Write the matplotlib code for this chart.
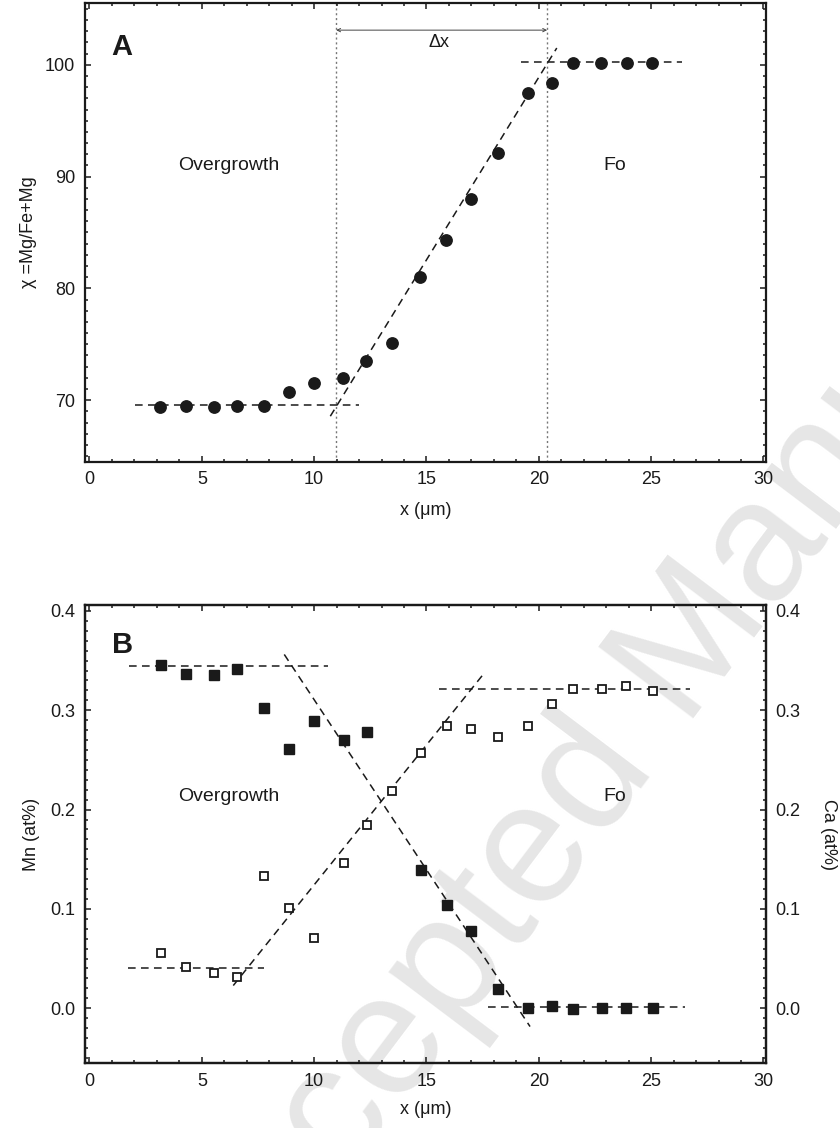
import numpy as np
import matplotlib
matplotlib.use("Agg")
import matplotlib.pyplot as plt
from matplotlib.ticker import MultipleLocator

plt.rcParams['font.family'] = ['Liberation Sans', 'DejaVu Sans']

# panel A: chi = Mg/(Fe+Mg) profile
x_a = [3.15, 4.3, 5.54, 6.58, 7.75, 8.87, 10.0, 11.27, 12.31, 13.48,
       14.7, 15.88, 17.0, 18.2, 19.54, 20.58, 21.52, 22.75, 23.93, 25.06]
chi = [69.35, 69.5, 69.35, 69.5, 69.5, 70.7, 71.55, 71.96, 73.54, 75.09,
       81.0, 84.29, 87.98, 92.14, 97.47, 98.33, 100.12, 100.18, 100.12, 100.18]

# fitted segments (x pairs, y pairs)
fit_a_low = ([2.03, 11.98], [69.55, 69.55])
fit_a_slope = ([10.72, 20.8], [68.57, 101.5])
fit_a_high = ([19.19, 26.36], [100.27, 100.27])
dx_bounds = [10.98, 20.37]

# panel B: Mn and Ca profiles
x_b = [3.18, 4.3, 5.54, 6.58, 7.75, 8.88, 10.0, 11.31, 12.36, 13.45,
       14.76, 15.91, 17.0, 18.18, 19.52, 20.57, 21.54, 22.8, 23.9, 25.09]
mn = [0.3458, 0.337, 0.3353, 0.342, 0.3027, 0.2607, 0.2893, 0.2705, 0.2779, None,
      0.1387, 0.1041, 0.0776, 0.0198, 0.0, 0.002, -0.0007, 0.0, 0.0, 0.0]
ca = [0.056, 0.041, 0.0353, 0.0316, 0.1327, 0.1004, 0.0702, 0.1462, 0.1848, 0.219,
      0.2567, 0.2846, 0.2812, 0.2735, 0.2839, 0.3065, 0.3212, 0.3212, 0.3242, 0.3189]

fit_mn_high = ([1.77, 10.61], [0.3448, 0.3448])
fit_mn_slope = ([8.67, 19.61], [0.3562, -0.0185])
fit_mn_low = ([17.75, 26.51], [0.001, 0.001])
fit_ca_low = ([1.73, 7.75], [0.04, 0.04])
fit_ca_slope = ([6.4, 17.52], [0.0228, 0.336])
fit_ca_high = ([15.54, 26.73], [0.3219, 0.3219])

W, H = 840, 1128
fig = plt.figure(figsize=(W / 100, H / 100), dpi=100)

ink = '#1a1a1a'
dash = dict(color=ink, lw=1.1, ls=(0, (5, 3.5)), zorder=2)


def style(ax, ymajor, yminor):
    ax.set_facecolor('none')
    ax.set_xlim(-0.2, 30.1)
    ax.xaxis.set_major_locator(MultipleLocator(5))
    ax.xaxis.set_minor_locator(MultipleLocator(1))
    ax.yaxis.set_major_locator(MultipleLocator(ymajor))
    ax.yaxis.set_minor_locator(MultipleLocator(yminor))
    ax.tick_params(which='both', direction='in', top=True, right=True,
                   width=1.1, color=ink, labelsize=13, labelcolor=ink)
    ax.tick_params(which='major', length=4.5, pad=7)
    ax.tick_params(which='minor', length=2.5)
    for s in ax.spines.values():
        s.set_linewidth(1.6)
        s.set_color(ink)


# ---- panel A ----
axA = fig.add_axes([85 / W, 1 - 461.7 / H, (765.7 - 85) / W, (461.7 - 3.3) / H])
style(axA, 10, 1)
axA.set_ylim(64.5, 105.5)
axA.plot(*fit_a_low, **dash)
axA.plot(*fit_a_slope, **dash)
axA.plot(*fit_a_high, **dash)
for xv in dx_bounds:
    axA.axvline(xv, color='#777777', lw=1.0, ls=(0, (1.5, 2)), zorder=1)
axA.annotate('', xy=(dx_bounds[0], 103.1), xytext=(dx_bounds[1], 103.1),
             arrowprops=dict(arrowstyle='<->', lw=0.7, color='#444444',
                             shrinkA=0, shrinkB=0, mutation_scale=6))
axA.text(15.55, 102.0, 'Δx', ha='center', va='center', fontsize=13, color=ink)
axA.plot(x_a, chi, 'o', color=ink, ms=8.2, zorder=3)
axA.text(1.45, 101.6, 'A', fontsize=21, fontweight='bold', ha='center', va='center', color=ink)
axA.text(6.2, 91.0, 'Overgrowth', fontsize=14, ha='center', va='center', color=ink)
axA.text(23.4, 91.0, 'Fo', fontsize=14, ha='center', va='center', color=ink)
axA.set_xlabel('x (μm)', fontsize=13, color=ink, labelpad=10)
axA.set_ylabel('χ =Mg/Fe+Mg', fontsize=13, color=ink, labelpad=6)

# ---- panel B ----
axB = fig.add_axes([85 / W, 1 - 1063.3 / H, (765.7 - 85) / W, (1063.3 - 605) / H])
style(axB, 0.1, 0.01)
axB.set_ylim(-0.0555, 0.406)
axB.yaxis.set_major_formatter(matplotlib.ticker.FormatStrFormatter('%.1f'))
for seg in (fit_mn_high, fit_mn_slope, fit_mn_low, fit_ca_low, fit_ca_slope, fit_ca_high):
    axB.plot(*seg, **dash)
xm = [x for x, v in zip(x_b, mn) if v is not None]
vm = [v for v in mn if v is not None]
axB.plot(xm, vm, 's', color=ink, ms=7.2, zorder=3)
axB.text(1.45, 0.366, 'B', fontsize=21, fontweight='bold', ha='center', va='center', color=ink)
axB.text(6.2, 0.2127, 'Overgrowth', fontsize=14, ha='center', va='center', color=ink)
axB.text(23.4, 0.2127, 'Fo', fontsize=14, ha='center', va='center', color=ink)
axB.set_xlabel('x (μm)', fontsize=13, color=ink, labelpad=8)
axB.set_ylabel('Mn (at%)', fontsize=13, color=ink, labelpad=7)

axC = axB.twinx()
axC.set_facecolor('none')
axC.set_ylim(axB.get_ylim())
axC.yaxis.set_major_locator(MultipleLocator(0.1))
axC.yaxis.set_minor_locator(MultipleLocator(0.01))
axC.yaxis.set_major_formatter(matplotlib.ticker.FormatStrFormatter('%.1f'))
axC.tick_params(which='both', direction='in', left=False, right=True,
                width=1.1, color=ink, labelsize=13, labelcolor=ink)
axC.tick_params(which='major', length=4.5, pad=7)
axC.tick_params(which='minor', length=2.5)
axB.tick_params(which='both', right=False)
for s in axC.spines.values():
    s.set_linewidth(1.6)
    s.set_color(ink)
axC.plot(x_b, ca, 's', mfc='white', mec=ink, mew=1.3, ms=6.2, zorder=3)
axC.set_ylabel('Ca (at%)', fontsize=13, color=ink, rotation=270, labelpad=26)

# watermark
fig.text(673 / W, 1 - 672 / H, 'Accepted Manuscript', fontsize=124, color='#e6e6e6',
         rotation=53, rotation_mode='anchor', ha='center', va='center', zorder=-5)

fig.savefig('out.png', dpi=100)
